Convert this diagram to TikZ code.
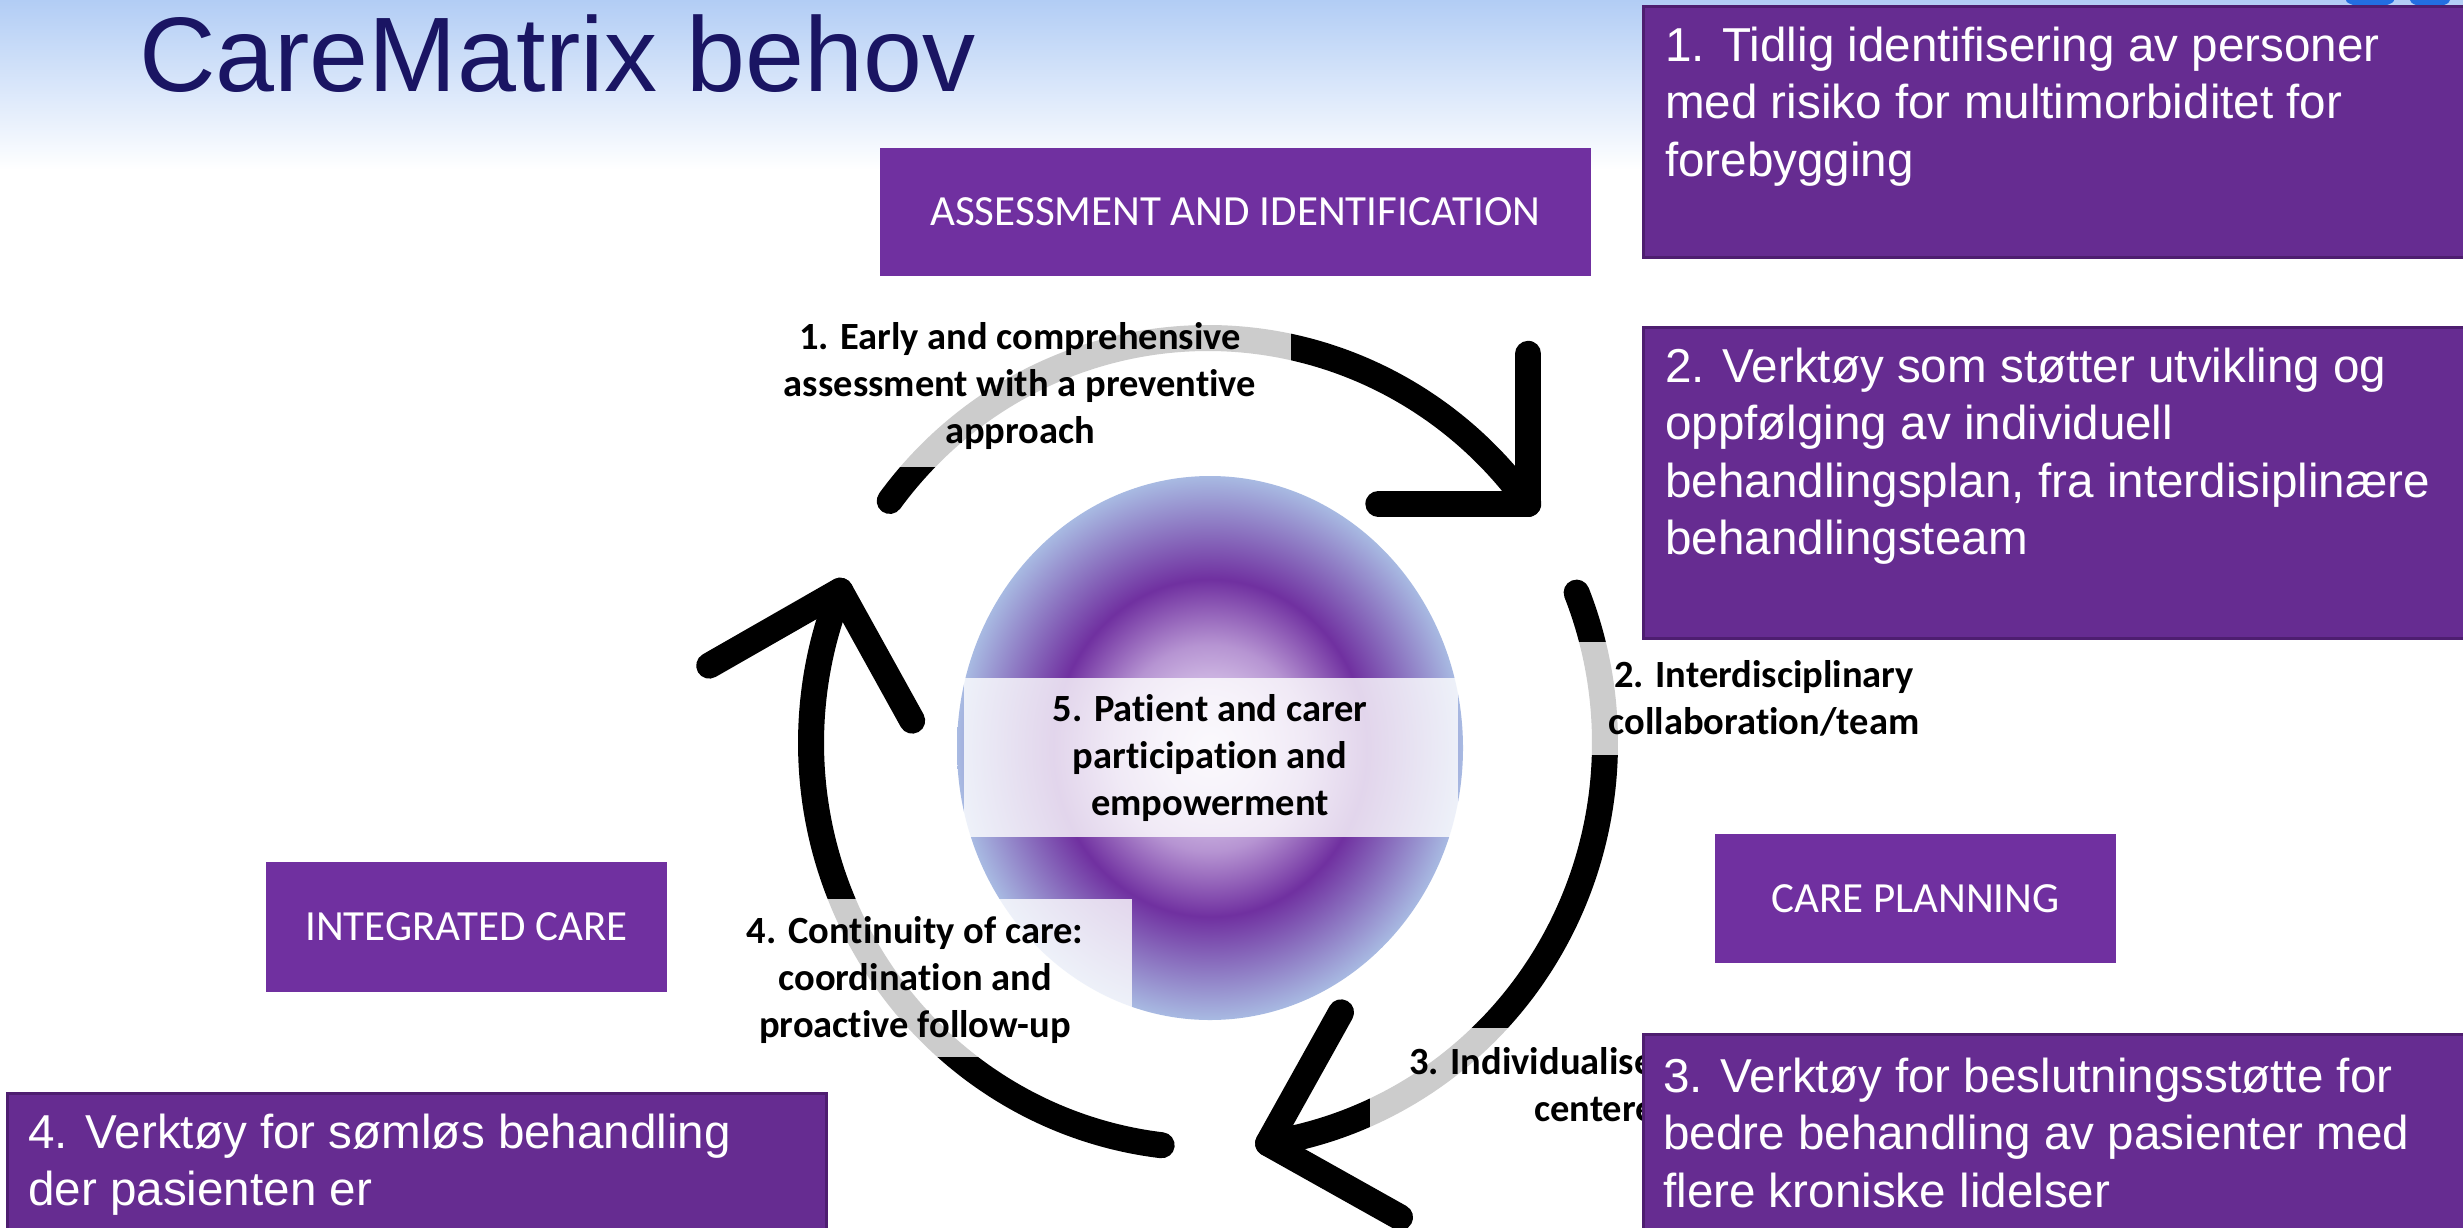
\documentclass[tikz,border=0pt]{standalone}
\usepackage{fontspec}
\setmainfont[Ligatures=NoCommon]{Liberation Sans}
\newfontfamily\calibri[Ligatures=NoCommon]{Carlito}
\usetikzlibrary{calc,shapes.geometric}
\definecolor{titleblue}{RGB}{26,21,99}
\definecolor{bgblue}{RGB}{178,205,245}
\definecolor{purA}{RGB}{112,48,160}
\definecolor{purB}{RGB}{102,44,145}
\definecolor{purEdge}{RGB}{78,30,112}
\definecolor{iconblue}{RGB}{35,110,225}
\definecolor{sphA}{RGB}{236,228,245}
\definecolor{sphB}{RGB}{214,194,232}
\definecolor{sphC}{RGB}{182,148,210}
\definecolor{sphD}{RGB}{112,48,160}
\definecolor{sphE}{RGB}{168,186,226}
% the path edge of a shaded shape lies at 25bp
\pgfdeclareradialshading{sphere}{\pgfpoint{0bp}{0bp}}{color(0bp)=(sphA); color(5bp)=(sphB); color(9.5bp)=(sphC); color(15.5bp)=(sphD); color(25bp)=(sphE); color(50bp)=(sphE)}
\tikzset{
  cyclearc/.style={line width=26, line cap=round, line join=round, draw=black},
  catbox/.style={rectangle, fill=purA, draw=none, text=white, inner sep=0,
    font=\calibri\fontsize{43}{52}\selectfont},
  toolbox/.style={rectangle, fill=purB, draw=purEdge, line width=3, inner sep=0},
  tooltext/.style={anchor=base west, inner sep=0, text=white, align=left,
    font=\fontsize{47.6}{57.5}\selectfont},
  labelbox/.style={rectangle, fill=white, fill opacity=0.8, draw=none, inner sep=0},
  labeltext/.style={inner sep=0, text=black, align=center,
    font=\calibri\bfseries\fontsize{38.5}{47}\selectfont},
}
\begin{document}
\begin{tikzpicture}[x=1pt,y=-1pt]
\useasboundingbox (0,0) rectangle (2463,1227);
\clip (0,0) rectangle (2463,1227);
% background
\fill[white] (0,0) rectangle (2463,1227);
\shade[top color=bgblue, bottom color=white] (0,0) rectangle (2463,170);
% small icon at top right
\fill[iconblue] (2370,0) ellipse [x radius=24, y radius=7];
\fill[iconblue] (2430,0) ellipse [x radius=20, y radius=7];
% title
\node[anchor=base west, inner sep=0, text=titleblue, font=\fontsize{106}{120}\selectfont] (title) at (139,91) {CareMatrix behov};

% central sphere
\node[ellipse, minimum width=506, minimum height=544, inner sep=0, draw=none, shading=sphere] (core) at (1210,748) {};

% cycle arcs
\coordinate (O) at (1208,743);
\path (O) ++(-143.3:397 and 405) coordinate (a1s);
\path (O) ++(-36.2:397 and 405) coordinate (a1e);
\path (O) ++(-21.8:397 and 405) coordinate (a2s);
\path (O) ++(81.3:397 and 405) coordinate (a2e);
\path (O) ++(96.7:397 and 405) coordinate (a3s);
\path (O) ++(202.1:397 and 405) coordinate (a3e);
\draw[cyclearc] (a1s) arc[start angle=-143.3, end angle=-36.2, x radius=397, y radius=405];
\draw[cyclearc] ($(a1e)+(0,-150)$) -- (a1e) -- ++(-150,0);
\draw[cyclearc] (a2s) arc[start angle=-21.8, end angle=81.3, x radius=397, y radius=405];
\draw[cyclearc] ($(a2e)+(73,-131)$) -- (a2e) -- ++(132,74);
\draw[cyclearc] (a3s) arc[start angle=96.7, end angle=202.1, x radius=397, y radius=405];
\draw[cyclearc] ($(a3e)+(-131,75)$) -- (a3e) -- ++(72,130);

% translucent label panels
\node[labelbox, minimum width=542, minimum height=149] (lb1) at (1020,392.5) {};
\node[labelbox, minimum width=388, minimum height=113] (lb2) at (1764,698.5) {};
\node[labelbox, minimum width=330, minimum height=122] (lb3) at (1535,1089) {};
\node[labelbox, minimum width=434, minimum height=158] (lb4) at (915,978) {};
\node[labelbox, minimum width=494, minimum height=159] (lb5) at (1211,757.5) {};

% label texts (base anchor = baseline of the last line)
\node[labeltext, anchor=base] (l1) at (1020,443) {1. Early and comprehensive\\assessment with a preventive\\approach};
\node[labeltext, anchor=base] (l2) at (1764,734) {2. Interdisciplinary\\collaboration/team};
\node[labeltext, anchor=base west] (l3a) at (1409,1074) {3. Individualised};
\node[labeltext, anchor=base west] (l3b) at (1534,1121) {centered};
\node[labeltext, anchor=base] (l4) at (915,1037) {4. Continuity of care:\\coordination and\\proactive follow-up};
\node[labeltext, anchor=base] (l5) at (1210,815) {5. Patient and carer\\participation and\\empowerment};

% category boxes
\node[catbox, minimum width=711, minimum height=128] (assess) at (1235.5,212) {ASSESSMENT AND IDENTIFICATION};
\node[catbox, minimum width=401, minimum height=129] (careplan) at (1915.5,898.5) {CARE PLANNING};
\node[catbox, minimum width=401, minimum height=130] (integ) at (466.5,927) {INTEGRATED CARE};

% tool boxes
\node[toolbox, minimum width=832, minimum height=251] (tool1) at (2059,131.5) {};
\node[toolbox, minimum width=832, minimum height=311] (tool2) at (2059,482.5) {};
\node[toolbox, minimum width=832, minimum height=206] (tool3) at (2059,1137) {};
\node[toolbox, minimum width=819, minimum height=147] (tool4) at (416.5,1166.5) {};
\node[tooltext] (t1) at (1665,176) {1. Tidlig identifisering av personer\\med risiko for multimorbiditet for\\forebygging};
\node[tooltext] (t2) at (1665,554.5) {2. Verktøy som støtter utvikling og\\oppfølging av individuell\\behandlingsplan, fra interdisiplinære\\behandlingsteam};
\node[tooltext] (t3) at (1663,1207) {3. Verktøy for beslutningsstøtte for\\bedre behandling av pasienter med\\flere kroniske lidelser};
\node[tooltext] (t4) at (28,1205.5) {4. Verktøy for sømløs behandling\\der pasienten er};
\end{tikzpicture}
\end{document}
